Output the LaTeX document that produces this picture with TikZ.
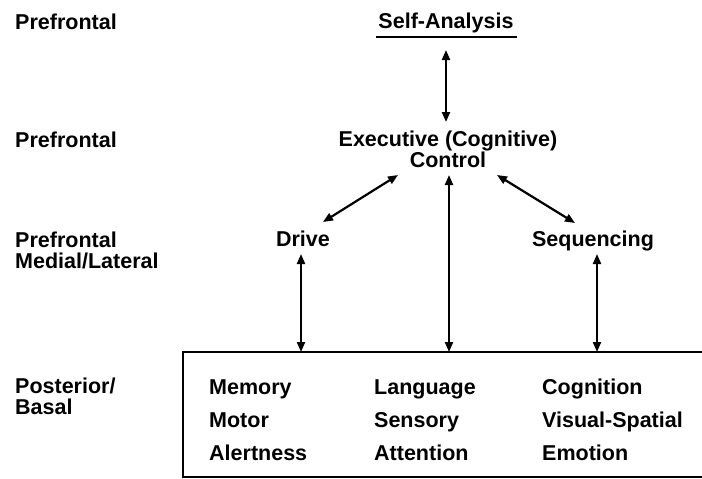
\documentclass[tikz,border=0pt]{standalone}
\usepackage{fontspec}
\setmainfont{Liberation Sans}
\usetikzlibrary{arrows.meta}
\begin{document}
\begin{tikzpicture}[x=1pt,y=-1pt,
  lbl/.style={font=\fontsize{21.5}{20.5}\selectfont\bfseries, inner sep=0pt},
  side/.style={lbl, anchor=base west, align=left},
  item/.style={lbl, anchor=base west},
  tip/.tip={Triangle[length=10pt,width=8pt]},
  link/.style={line width=2.2pt, tip-tip}
]
\useasboundingbox (0,0) rectangle (702,479);

% level labels on the left (base = baseline of the last line)
\node[side] (l1) at (15,29) {Prefrontal};
\node[side] (l2) at (15,147) {Prefrontal};
\node[side] (l3) at (15,268) {Prefrontal\\Medial/Lateral};
\node[side] (l4) at (15,414) {Posterior/\\Basal};

% hierarchy
\node[lbl, anchor=base] (self) at (446,28) {Self-Analysis};
\draw[line width=1.4pt] (376,37) -- (517,37);
\coordinate (selfb) at (446,50);

\node[lbl, anchor=base, align=center] (exec) at (448,167) {Executive (Cognitive)\\Control};
\coordinate (exect) at (446,122);
\coordinate (execl) at (398,175);
\coordinate (execm) at (449,175);
\coordinate (execr) at (497,175);

\node[lbl, anchor=base] (drive) at (303,246) {Drive};
\node[lbl, anchor=base] (seq) at (593,246) {Sequencing};
\coordinate (drivet) at (323,222);
\coordinate (seqt) at (575,223);
\coordinate (driveb) at (301,254);
\coordinate (seqb) at (597,254);

% posterior/basal box, open to the right
\draw[line width=1.4pt] (702,352) -- (183,352) -- (183,477) -- (702,477);
\coordinate (boxl) at (301,352);
\coordinate (boxm) at (449,352);
\coordinate (boxr) at (597,352);

\node[item] (m1) at (209,394) {Memory};
\node[item] (m2) at (209,427) {Motor};
\node[item] (m3) at (209,460) {Alertness};
\node[item] (c1) at (374,394) {Language};
\node[item] (c2) at (374,427) {Sensory};
\node[item] (c3) at (374,460) {Attention};
\node[item] (r1) at (542,394) {Cognition};
\node[item] (r2) at (542,427) {Visual-Spatial};
\node[item] (r3) at (542,460) {Emotion};

% connections
\draw[link] (selfb) -- (exect);
\draw[link] (drivet) -- (execl);
\draw[link] (seqt) -- (execr);
\draw[link] (execm) -- (boxm);
\draw[link] (driveb) -- (boxl);
\draw[link] (seqb) -- (boxr);
\end{tikzpicture}
\end{document}
